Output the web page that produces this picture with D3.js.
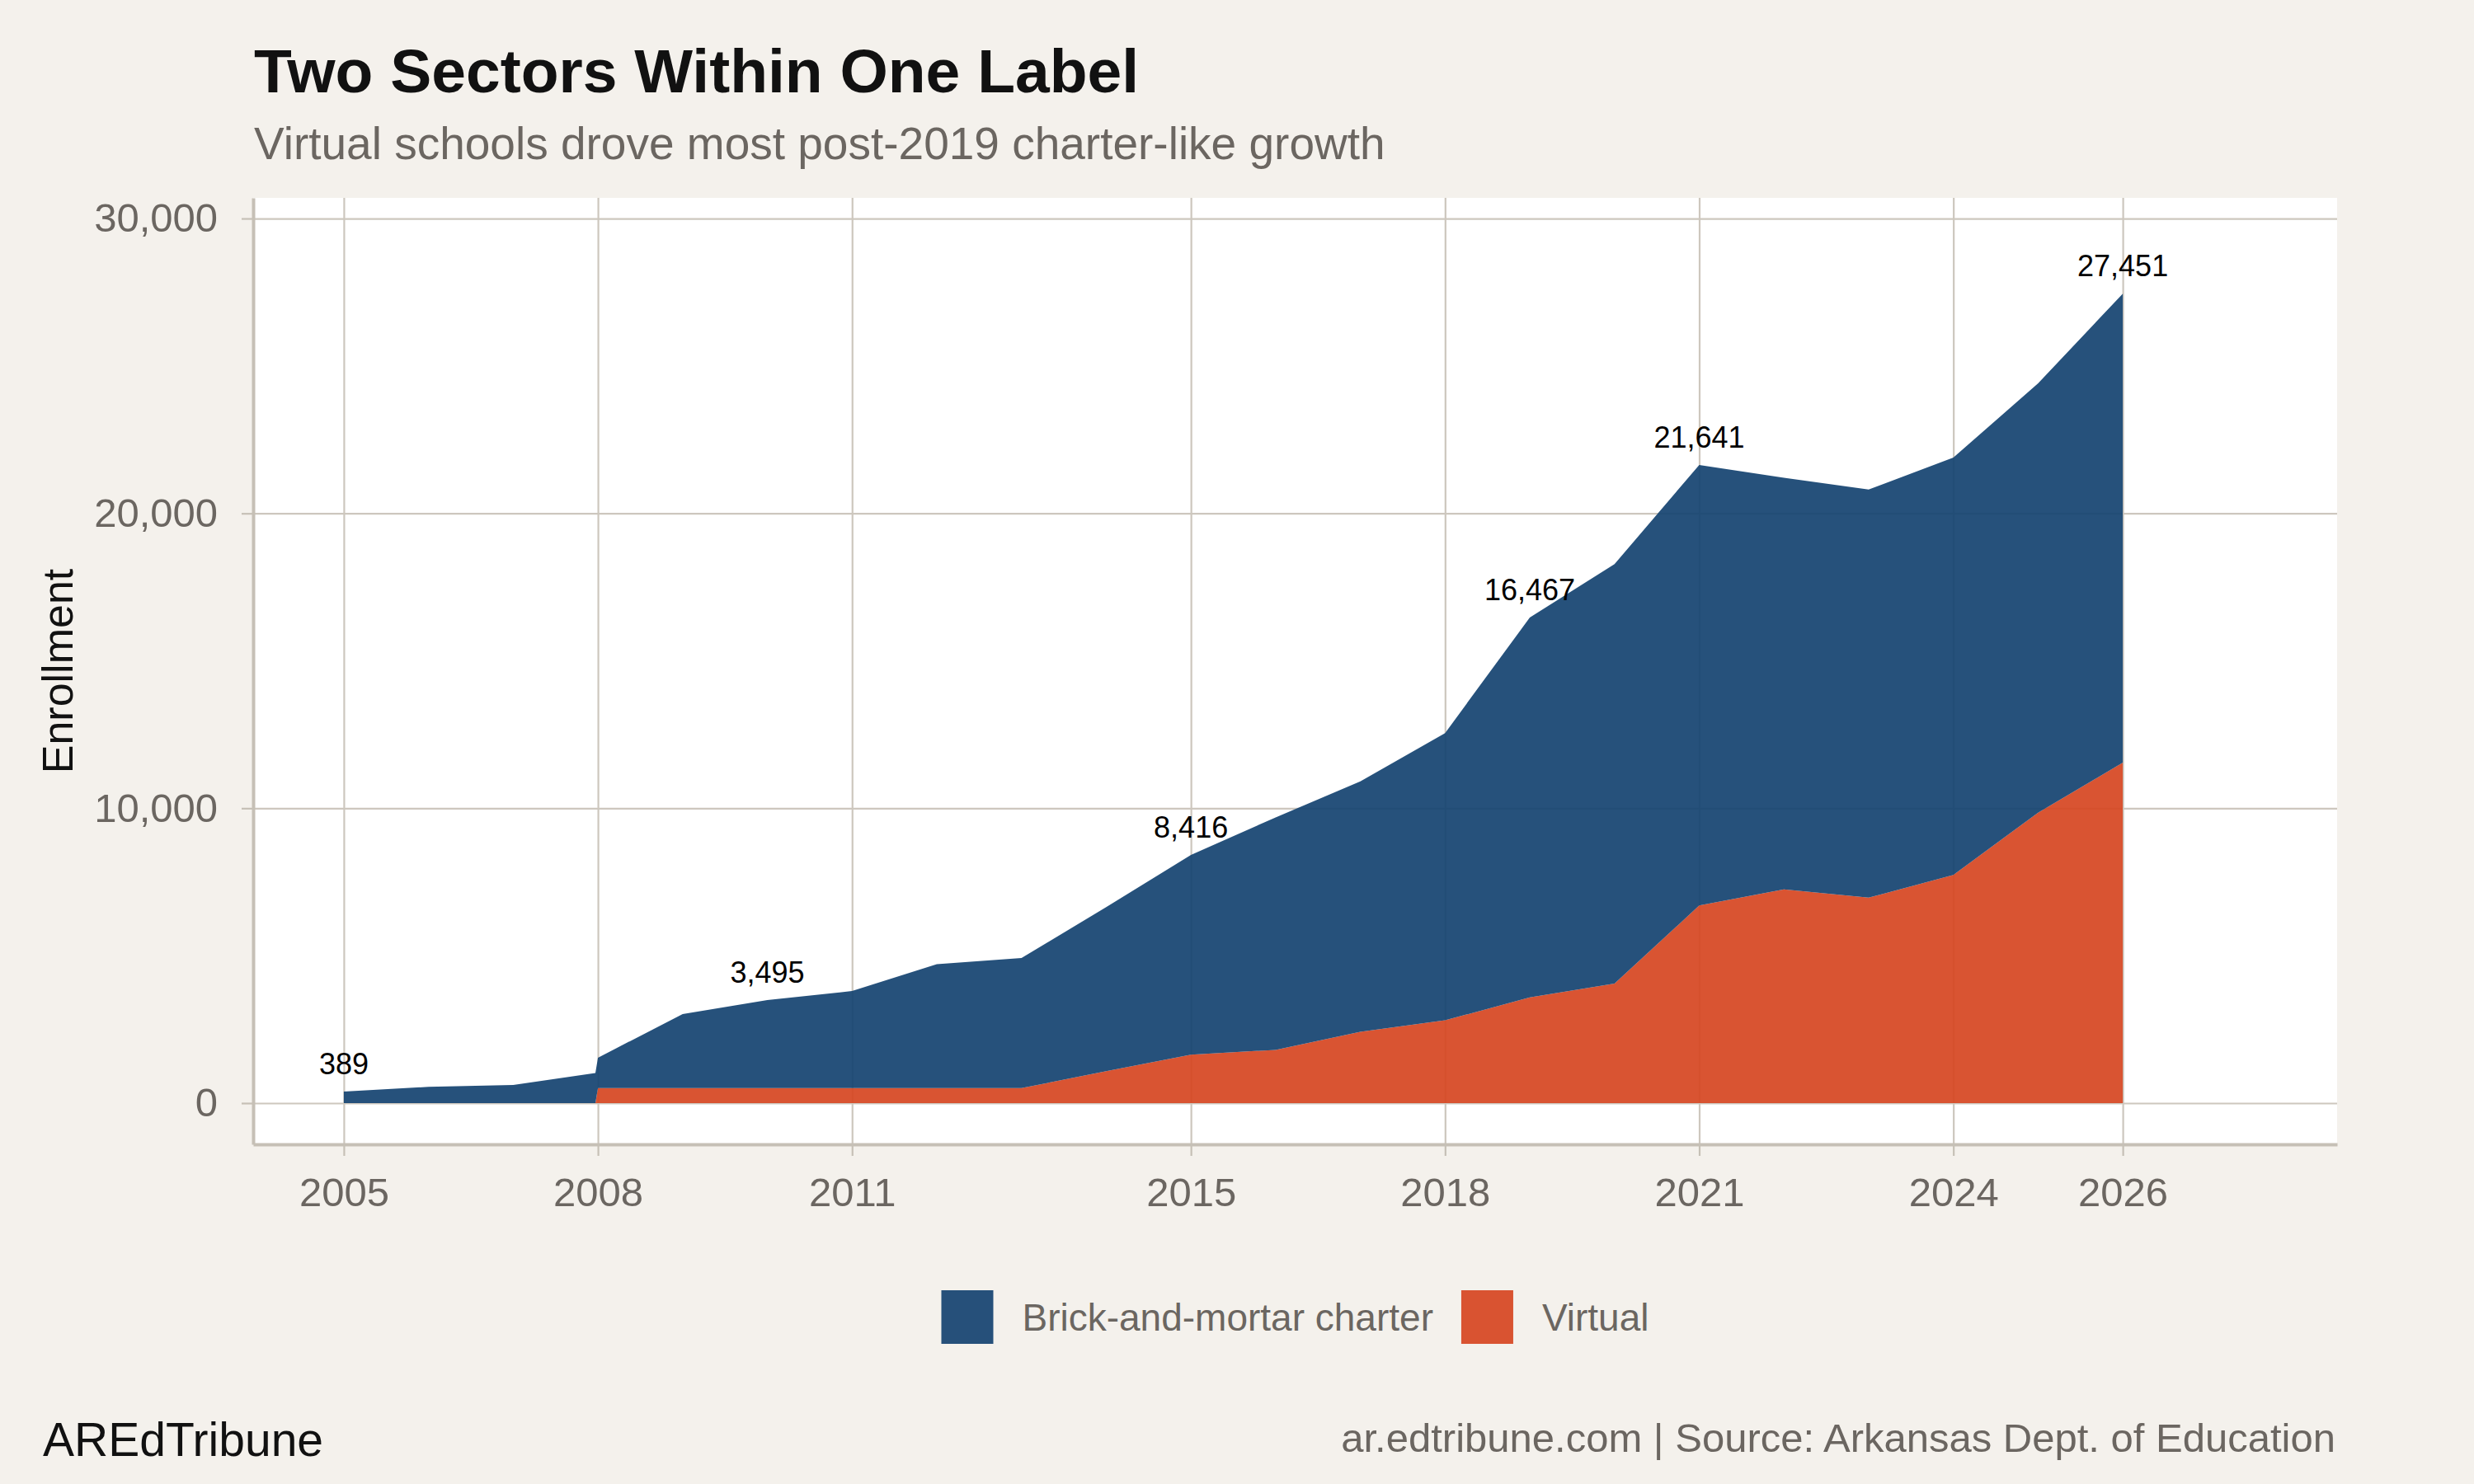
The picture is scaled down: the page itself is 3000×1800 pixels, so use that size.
<!DOCTYPE html>
<html lang="en">
<head>
<meta charset="utf-8">
<script src="https://d3js.org/d3.v7.min.js"></script>
<style>
  body { margin: 0; background: #f4f1ec; }
  text { font-family: "Liberation Sans", Arial, Helvetica, sans-serif; }
</style>
</head>
<body>
<svg width="3000" height="1800"></svg>
<script>
// enrollment by year
var years = [2005, 2006, 2007, 2008, 2009, 2010, 2011, 2012, 2013, 2014, 2015,
             2016, 2017, 2018, 2019, 2020, 2021, 2022, 2023, 2024, 2025, 2026];
var brick = [389, 550, 615, 1030, 2510, 2985, 3290, 4200, 4410, 5570, 6771,
             7885, 8490, 9742, 12884, 14229, 14941, 13964, 13844, 14150, 14560, 15906];
var virtual = [null, null, null, 510, 510, 510, 510, 510, 510, 1080, 1645,
               1805, 2420, 2808, 3583, 4051, 6700, 7246, 6966, 7740, 9850, 11545];
var labelYears = [2005, 2010, 2015, 2019, 2021, 2026];
var xTicks = [2005, 2008, 2011, 2015, 2018, 2021, 2024, 2026];
var yTicks = [0, 10000, 20000, 30000];
var seriesNames = ["Brick-and-mortar charter", "Virtual"];
var colors = ["#144270", "#d64521"];

// panel edges (window.top is reserved, so use p* names)
var pLeft = 307, pRight = 2834, pTop = 240, pBottom = 1388;
var gray = "#6b6661", gridColor = "#cdc7be", axisColor = "#c6c0b6";

var x = d3.scaleLinear().domain([2003.93, 2028.53]).range([pLeft, pRight]);
var y = d3.scaleLinear().domain([-1398, 30700]).range([pBottom, pTop]);

var svg = d3.select("svg");
svg.append("rect").attr("width", 3000).attr("height", 1800).attr("fill", "#f4f1ec");
svg.append("rect").attr("x", pLeft).attr("y", pTop)
    .attr("width", pRight - pLeft).attr("height", pBottom - pTop).attr("fill", "#fff");

// gridlines
svg.append("g")
    .attr("transform", "translate(0," + pBottom + ")")
    .call(d3.axisBottom(x).tickValues(xTicks).tickSize(-(pBottom - pTop)).tickFormat(""))
    .call(function (g) { g.select(".domain").remove(); })
    .selectAll("line").attr("stroke", gridColor).attr("stroke-width", 2.2);
svg.append("g")
    .attr("transform", "translate(" + pLeft + ",0)")
    .call(d3.axisLeft(y).tickValues(yTicks).tickSize(-(pRight - pLeft)).tickFormat(""))
    .call(function (g) { g.select(".domain").remove(); })
    .selectAll("line").attr("stroke", gridColor).attr("stroke-width", 2.2);

// rows for stacking; virtual starts in 2008, so add a zero point just before it
var rows = [];
years.forEach(function (yr, i) {
    if (i > 0 && virtual[i] != null && virtual[i - 1] == null) {
        rows.push({ year: yr - 0.03, v: 0,
                    b: d3.interpolateNumber(brick[i - 1], brick[i])(0.97), hasV: true });
    }
    rows.push({ year: yr, v: virtual[i] == null ? 0 : virtual[i], b: brick[i],
                hasV: virtual[i] != null });
});

var areaVirtual = d3.area()
    .x(function (d) { return x(d.year); })
    .y0(y(0))
    .y1(function (d) { return y(d.v); });
var areaBrick = d3.area()
    .x(function (d) { return x(d.year); })
    .y0(function (d) { return y(d.v); })
    .y1(function (d) { return y(d.v + d.b); });

svg.append("path").datum(rows.filter(function (d) { return d.hasV; }))
    .attr("d", areaVirtual).attr("fill", colors[1]).attr("fill-opacity", 0.92);
svg.append("path").datum(rows)
    .attr("d", areaBrick).attr("fill", colors[0]).attr("fill-opacity", 0.92);

// total labels
var fmt = d3.format(",");
svg.append("g").selectAll("text")
    .data(rows.filter(function (d) { return labelYears.indexOf(d.year) >= 0; }))
    .join("text")
    .attr("x", function (d) { return x(d.year); })
    .attr("y", function (d) { return y(d.v + d.b) - 21; })
    .attr("text-anchor", "middle")
    .attr("font-size", 36)
    .attr("fill", "#000")
    .text(function (d) { return fmt(Math.round(d.v + d.b)); });

// axes
var yAxis = svg.append("g")
    .attr("transform", "translate(" + pLeft + ",0)")
    .call(d3.axisLeft(y).tickValues(yTicks).tickSize(14).tickSizeOuter(0)
        .tickPadding(29).tickFormat(fmt));
var xAxis = svg.append("g")
    .attr("transform", "translate(0," + pBottom + ")")
    .call(d3.axisBottom(x).tickValues(xTicks).tickSize(14).tickSizeOuter(0)
        .tickPadding(26).tickFormat(d3.format("d")));
[yAxis, xAxis].forEach(function (g) {
    g.select(".domain").attr("stroke", axisColor).attr("stroke-width", 4);
    g.selectAll(".tick line").attr("stroke", axisColor).attr("stroke-width", 2.2);
    g.selectAll(".tick text").attr("fill", gray).attr("font-size", 49)
        .attr("font-family", "Liberation Sans, Arial, sans-serif");
});

svg.append("text")
    .attr("transform", "translate(88," + (pTop + pBottom) / 2 + ") rotate(-90)")
    .attr("text-anchor", "middle").attr("font-size", 52).attr("fill", "#111")
    .text("Enrollment");

// title block
svg.append("text").attr("x", 308).attr("y", 112)
    .attr("font-size", 75).attr("font-weight", "bold").attr("fill", "#111")
    .text("Two Sectors Within One Label");
svg.append("text").attr("x", 308).attr("y", 193)
    .attr("font-size", 55).attr("fill", gray)
    .text("Virtual schools drove most post-2019 charter-like growth");

// legend, centred under the panel
var legend = svg.append("g");
var keyW = 63, keyH = 65, gap = 35, xPos = 0;
seriesNames.forEach(function (name, i) {
    legend.append("rect").attr("x", xPos).attr("y", 1565)
        .attr("width", keyW).attr("height", keyH)
        .attr("fill", colors[i]).attr("fill-opacity", 0.92);
    var t = legend.append("text").attr("x", xPos + keyW + gap).attr("y", 1614)
        .attr("font-size", 46).attr("fill", gray).text(name);
    xPos += keyW + gap + t.node().getComputedTextLength() + 34;
});
var legendW = xPos - 34;
legend.attr("transform", "translate(" + ((pLeft + pRight) / 2 - legendW / 2) + ",0)");

// footer
svg.append("text").attr("x", 52).attr("y", 1766)
    .attr("font-size", 57).attr("fill", "#111").text("AREdTribune");
svg.append("text").attr("x", 2832).attr("y", 1761)
    .attr("text-anchor", "end").attr("font-size", 49).attr("fill", gray)
    .text("ar.edtribune.com | Source: Arkansas Dept. of Education");
</script>
</body>
</html>
